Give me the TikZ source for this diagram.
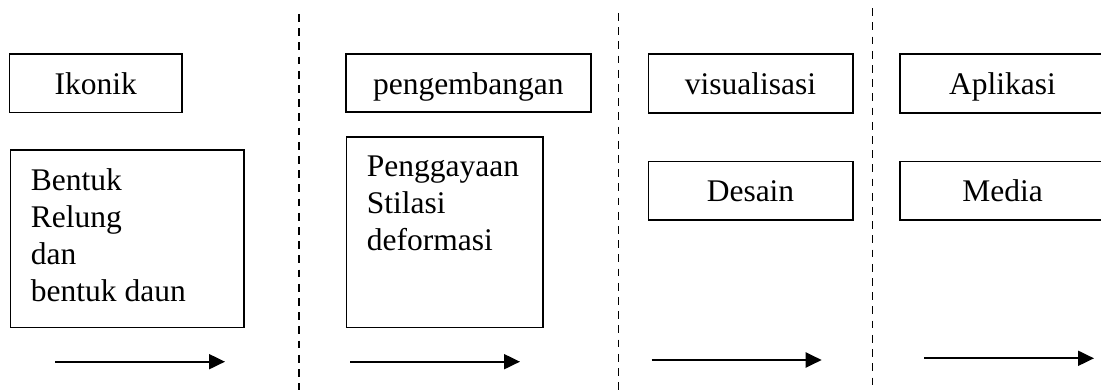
\documentclass[tikz,border=0pt]{standalone}
\usepackage{fontspec}
\setmainfont{Liberation Serif}
\usetikzlibrary{arrows.meta}
\begin{document}
\begin{tikzpicture}[x=1pt,y=-1pt,
  txt/.style={font=\fontsize{31.5}{37}\selectfont},
  headbox/.style={draw,line width=1.6pt,inner sep=0pt,txt,text height=22pt,text depth=0pt,anchor=center},
  bigbox/.style={draw,line width=1.6pt,inner sep=0pt,anchor=north west},
  boxtext/.style={txt,align=left,inner sep=0pt,anchor=north west},
  sep/.style={line width=1.6pt,dash pattern=on 7.8pt off 6.4pt},
  flow/.style={line width=2pt,-{Triangle[length=16pt,width=15pt]}}]
\clip (0,0) rectangle (1101,390);
% header boxes
\node[headbox,minimum width=172.5pt,minimum height=58.7pt] (ikonik) at (95.75,83.35) {Ikonik};
\node[headbox,minimum width=245.3pt,minimum height=58pt] (pengembangan) at (468.35,83.3) {pengembangan};
\node[headbox,minimum width=204.4pt,minimum height=59pt] (visualisasi) at (750.5,83.8) {visualisasi};
\node[headbox,minimum width=205pt,minimum height=59pt] (aplikasi) at (1002.5,83.8) {Aplikasi};
% second row
\node[bigbox,minimum width=233.3pt,minimum height=177.7pt] (bentukbox) at (9.7,149) {};
\node[boxtext] (bentuk) at (30.7,168.7) {Bentuk\\Relung\\dan\\bentuk daun};
\node[bigbox,minimum width=196.6pt,minimum height=190.7pt] (gayabox) at (345.7,136) {};
\node[boxtext] (gaya) at (366.7,155.8) {Penggayaan\\Stilasi\\deformasi};
\node[headbox,minimum width=204.4pt,minimum height=58.3pt] (desain) at (750.5,190.85) {Desain};
\node[headbox,minimum width=205pt,minimum height=58.3pt] (media) at (1002.5,190.85) {Media};
% separators
\coordinate (s1t) at (299,14); \coordinate (s1b) at (299,395);
\coordinate (s2t) at (618.3,13); \coordinate (s2b) at (618.3,395);
\coordinate (s3t) at (872.3,8.3); \coordinate (s3b) at (872.3,395);
\draw[sep] (s1t) -- (s1b);
\draw[sep] (s2t) -- (s2b);
\draw[sep] (s3t) -- (s3b);
% arrows
\coordinate (a1s) at (55,361.7); \coordinate (a1e) at (225,361.7);
\coordinate (a2s) at (350,361.7); \coordinate (a2e) at (520,361.7);
\coordinate (a3s) at (651.7,360); \coordinate (a3e) at (821.7,360);
\coordinate (a4s) at (924.3,358.3); \coordinate (a4e) at (1094,358.3);
\draw[flow] (a1s) -- (a1e);
\draw[flow] (a2s) -- (a2e);
\draw[flow] (a3s) -- (a3e);
\draw[flow] (a4s) -- (a4e);
\end{tikzpicture}
\end{document}
